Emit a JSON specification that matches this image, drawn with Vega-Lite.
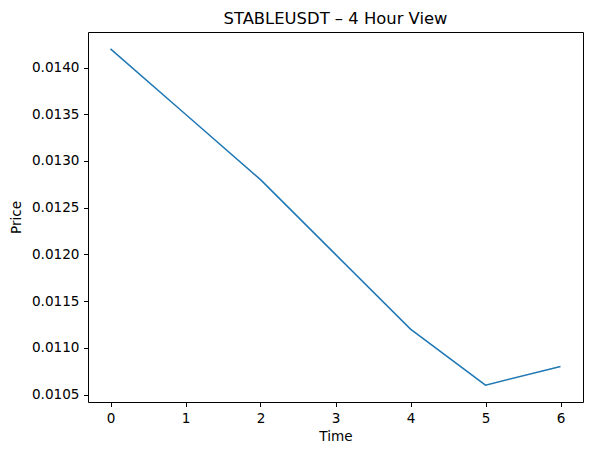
{
  "$schema": "https://vega.github.io/schema/vega-lite/v6.json",
  "width": 495,
  "height": 370,
  "autosize": {"type": "none"},
  "padding": {"left": 88, "top": 32, "right": 10, "bottom": 53},
  "background": "white",
  "title": {"text": "STABLEUSDT – 4 Hour View", "font": "DejaVu Sans", "fontSize": 16.4, "fontWeight": "normal", "color": "black", "anchor": "middle", "offset": 5},
  "config": {
    "view": {"stroke": "black", "strokeWidth": 1},
    "axis": {
      "grid": false, "domain": false,
      "labelFont": "DejaVu Sans", "labelFontSize": 13.6, "labelColor": "black",
      "titleFont": "DejaVu Sans", "titleFontSize": 13.6, "titleFontWeight": "normal", "titleColor": "black",
      "tickColor": "black", "tickSize": 4.5, "labelPadding": 4.5
    }
  },
  "data": {"values": [
    {"Time": 0, "Price": 0.0142},
    {"Time": 1, "Price": 0.0135},
    {"Time": 2, "Price": 0.0128},
    {"Time": 3, "Price": 0.0120},
    {"Time": 4, "Price": 0.0112},
    {"Time": 5, "Price": 0.0106},
    {"Time": 6, "Price": 0.0108}
  ]},
  "mark": {"type": "line", "color": "#1f77b4", "strokeWidth": 1.5},
  "encoding": {
    "x": {"field": "Time", "type": "quantitative", "scale": {"domain": [-0.3, 6.3], "nice": false, "zero": false},
      "axis": {"values": [0,1,2,3,4,5,6], "format": "d", "title": "Time", "titlePadding": 5}},
    "y": {"field": "Price", "type": "quantitative", "scale": {"domain": [0.01042, 0.01438], "nice": false, "zero": false},
      "axis": {"values": [0.0105,0.011,0.0115,0.012,0.0125,0.013,0.0135,0.014], "format": ".4f", "title": "Price", "titlePadding": 8}}
  }
}
